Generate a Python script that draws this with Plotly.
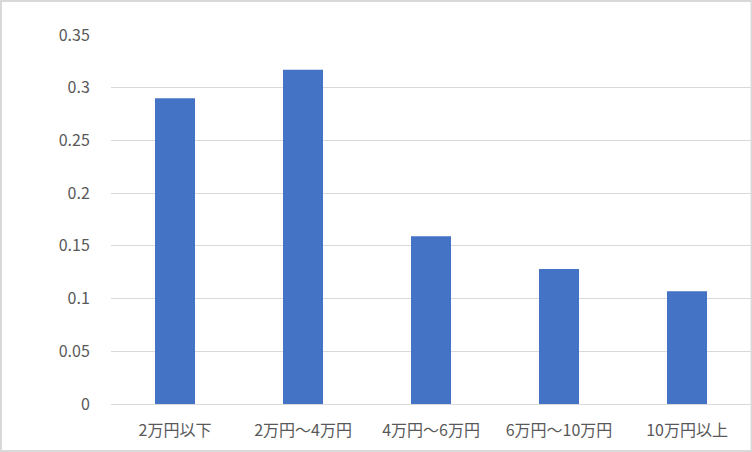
import plotly.graph_objects as go

categories = ["2万円以下", "2万円～4万円", "4万円～6万円", "6万円～10万円", "10万円以上"]
values = [0.290, 0.317, 0.159, 0.128, 0.107]
y_ticks = [0, 0.05, 0.1, 0.15, 0.2, 0.25, 0.3, 0.35]
y_ticktext = ["0", "0.05", "0.1", "0.15", "0.2", "0.25", "0.3", "0.35"]

fig = go.Figure(go.Bar(x=categories, y=values, marker_color="#4472C4", marker_line_width=0,
                       hoverinfo="skip"))

fig.update_layout(
    width=752, height=452,
    margin=dict(l=111, r=1, t=35, b=48),
    paper_bgcolor="white", plot_bgcolor="white",
    bargap=0.6875,
    font=dict(family="Noto Sans CJK JP, Noto Sans, sans-serif", size=16, color="#595959"),
    showlegend=False,
    xaxis=dict(showgrid=False, showline=True, linecolor="#d9d9d9", linewidth=1,
               ticks="outside", ticklen=12, tickcolor="rgba(0,0,0,0)",
               tickfont=dict(size=16, color="#595959")),
    yaxis=dict(range=[0, 0.35], tickvals=y_ticks, ticktext=y_ticktext,
               showgrid=True, gridcolor="#d9d9d9", gridwidth=1, zeroline=False,
               ticks="outside", ticklen=17, tickcolor="rgba(0,0,0,0)",
               tickfont=dict(size=16, color="#595959")),
    shapes=[dict(type="rect", xref="paper", yref="paper", x0=-110/640, x1=1 + 0.5/640,
                 y0=-47/369, y1=1 + 34/369, line=dict(color="#d9d9d9", width=2))],
)

fig.write_html("out.html", config={"displayModeBar": False},
               post_script="document.body.style.margin='0';document.body.style.overflow='hidden';")
